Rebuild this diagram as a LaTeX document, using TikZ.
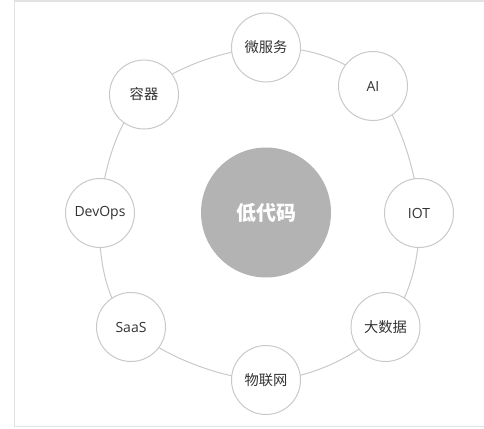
\documentclass[tikz,border=0pt]{standalone}
\usepackage{fontspec}
\setmainfont{Open Sans}
\newfontfamily\cjkfont{Noto Sans CJK SC}
\usetikzlibrary{backgrounds}
\definecolor{ringgray}{HTML}{C9C9C9}
\definecolor{framegray}{HTML}{E2E2E2}
\definecolor{centergray}{HTML}{B3B3B3}
\definecolor{textgray}{HTML}{333333}
\tikzset{
  topic/.style={circle, draw=ringgray, line width=0.75pt, fill=white,
    minimum size=51.75pt, inner sep=0pt, text=textgray, font=\fontsize{10.5}{12}\selectfont},
  cjktopic/.style={topic, font=\cjkfont\fontsize{10.7}{12}\selectfont},
  hub/.style={circle, fill=centergray, minimum size=97.5pt, inner sep=0pt,
    text=white, font=\cjkfont\bfseries\fontsize{15}{17}\selectfont},
  ring/.style={draw=ringgray, line width=0.75pt}
}
\begin{document}
\begin{tikzpicture}[x=0.75pt,y=-0.75pt]
\useasboundingbox (0,0) rectangle (484,428);
\begin{scope}
\clip (0,0) rectangle (484,428);
\draw[framegray, line width=0.9pt] (14.7,1) rectangle (500,426.5);
\end{scope}
\node[hub] (center) at (266,212.5) {低代码};
\node[cjktopic] (ms) at (266,47.5) {微服务};
\node[topic] (ai) at (373,86) {AI};
\node[topic] (iot) at (419,213) {IOT};
\node[cjktopic] (bd) at (385.5,327) {大数据};
\node[cjktopic] (wl) at (266,380) {物联网};
\node[topic] (saas) at (131,327) {SaaS};
\node[topic] (devops) at (100,213) {DevOps};
\node[cjktopic] (rq) at (144,94.5) {容器};
\begin{scope}[on background layer]
\draw[ring] plot[smooth cycle, tension=0.6] coordinates {(ms) (ai) (iot) (bd) (wl) (saas) (devops) (rq)};
\end{scope}
\end{tikzpicture}
\end{document}
